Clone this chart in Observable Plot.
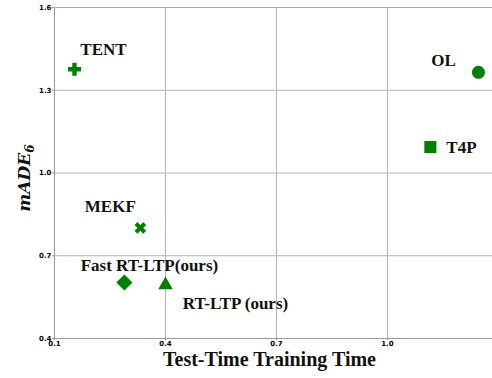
<!DOCTYPE html>
<html><head><meta charset="utf-8">
<script src="https://cdn.jsdelivr.net/npm/d3@7"></script>
<script src="https://cdn.jsdelivr.net/npm/@observablehq/plot@0.6"></script>
<style>body{margin:0;background:#fff} svg{display:block}</style>
</head><body><div id="chart"></div>
<script>
const methods = ["TENT", "OL", "T4P", "MEKF", "Fast RT-LTP(ours)", "RT-LTP (ours)"];
const trainTime = [0.154, 1.246, 1.116, 0.332, 0.289, 0.400];
const made6 = [1.376, 1.365, 1.094, 0.801, 0.603, 0.594];
const xTicks = [0.1, 0.4, 0.7, 1.0];
const yTicks = [0.4, 0.7, 1.0, 1.3, 1.6];

const data = methods.map((m, i) => ({method: m, x: trainTime[i], y: made6[i]}));

const markStyle = {
  "TENT": {symbol: "cross", r: 5.5, rotate: 0, dx: 29, dy: -20, anchor: "middle"},
  "OL": {symbol: "circle", r: 6.5, rotate: 0, dx: -35, dy: -12, anchor: "middle"},
  "T4P": {symbol: "square", r: 6.8, rotate: 0, dx: 16, dy: 0, anchor: "start"},
  "MEKF": {symbol: "cross", r: 5.2, rotate: 45, dx: -30, dy: -21, anchor: "middle"},
  "Fast RT-LTP(ours)": {symbol: "square", r: 6.4, rotate: 45, dx: 25, dy: -17, anchor: "middle"},
  "RT-LTP (ours)": {symbol: "triangle", r: 5.4, rotate: 0, dx: 70, dy: 19, anchor: "middle"}
};

const green = "#008000";
const gridColor = "#b3b3b3";
const labelFont = "Liberation Serif, Times New Roman, serif";

const marks = [
  Plot.gridX(xTicks, {stroke: gridColor, strokeOpacity: 1, strokeWidth: 1}),
  Plot.gridY(yTicks, {stroke: gridColor, strokeOpacity: 1, strokeWidth: 1}),
  Plot.ruleX([xTicks[0]], {stroke: "#999", strokeWidth: 1}),
  Plot.ruleY([yTicks[0]], {stroke: "#999", strokeWidth: 1}),
  Plot.ruleY([yTicks[yTicks.length - 1]], {stroke: "#aaa", strokeWidth: 1}),
  Plot.axisX(xTicks, {tickSize: 2, tickPadding: 1, fontSize: 7, fontWeight: "bold", fontFamily: "DejaVu Sans", tickFormat: d3.format(".1f"), label: null, stroke: "#999"}),
  Plot.axisY(yTicks, {tickSize: 2, tickPadding: 1, fontSize: 7, fontWeight: "bold", fontFamily: "DejaVu Sans", tickFormat: d3.format(".1f"), label: null, stroke: "#999"})
];

for (const m of methods) {
  const s = markStyle[m];
  marks.push(Plot.dot(data, {filter: d => d.method === m, x: "x", y: "y", symbol: s.symbol, r: s.r, rotate: s.rotate, fill: green, stroke: "none"}));
  marks.push(Plot.text(data, {filter: d => d.method === m, x: "x", y: "y", text: "method", dx: s.dx, dy: s.dy, textAnchor: s.anchor, fontSize: 17, fontWeight: "bold", fontFamily: labelFont, fill: "#111"}));
}

marks.push(Plot.text(["Test-Time Training Time"], {frameAnchor: "bottom", textAnchor: "middle", dx: -4, dy: 27, text: d => d, fontSize: 20, fontWeight: "bold", fontFamily: labelFont, fill: "#111"}));
marks.push(Plot.text(["mADE"], {frameAnchor: "left", textAnchor: "middle", dx: -30, dy: 5, rotate: -90, text: d => d, fontSize: 17, fontWeight: "bold", fontStyle: "italic", fontFamily: "DejaVu Serif", fill: "#111", className: "ytitle"}));

const chart = Plot.plot({
  width: 492,
  height: 378,
  marginLeft: 54,
  marginRight: 0,
  marginTop: 7,
  marginBottom: 40,
  style: {background: "#fff", overflow: "visible"},
  x: {domain: [0.1, 1.284]},
  y: {domain: [0.4, 1.6]},
  marks
});

d3.select(chart).selectAll(".ytitle text").each(function() {
  const t = d3.select(this);
  t.append("tspan").attr("font-size", 12).attr("dy", "0.3em").text("6");
});

document.getElementById("chart").append(chart);
</script>
</body></html>
